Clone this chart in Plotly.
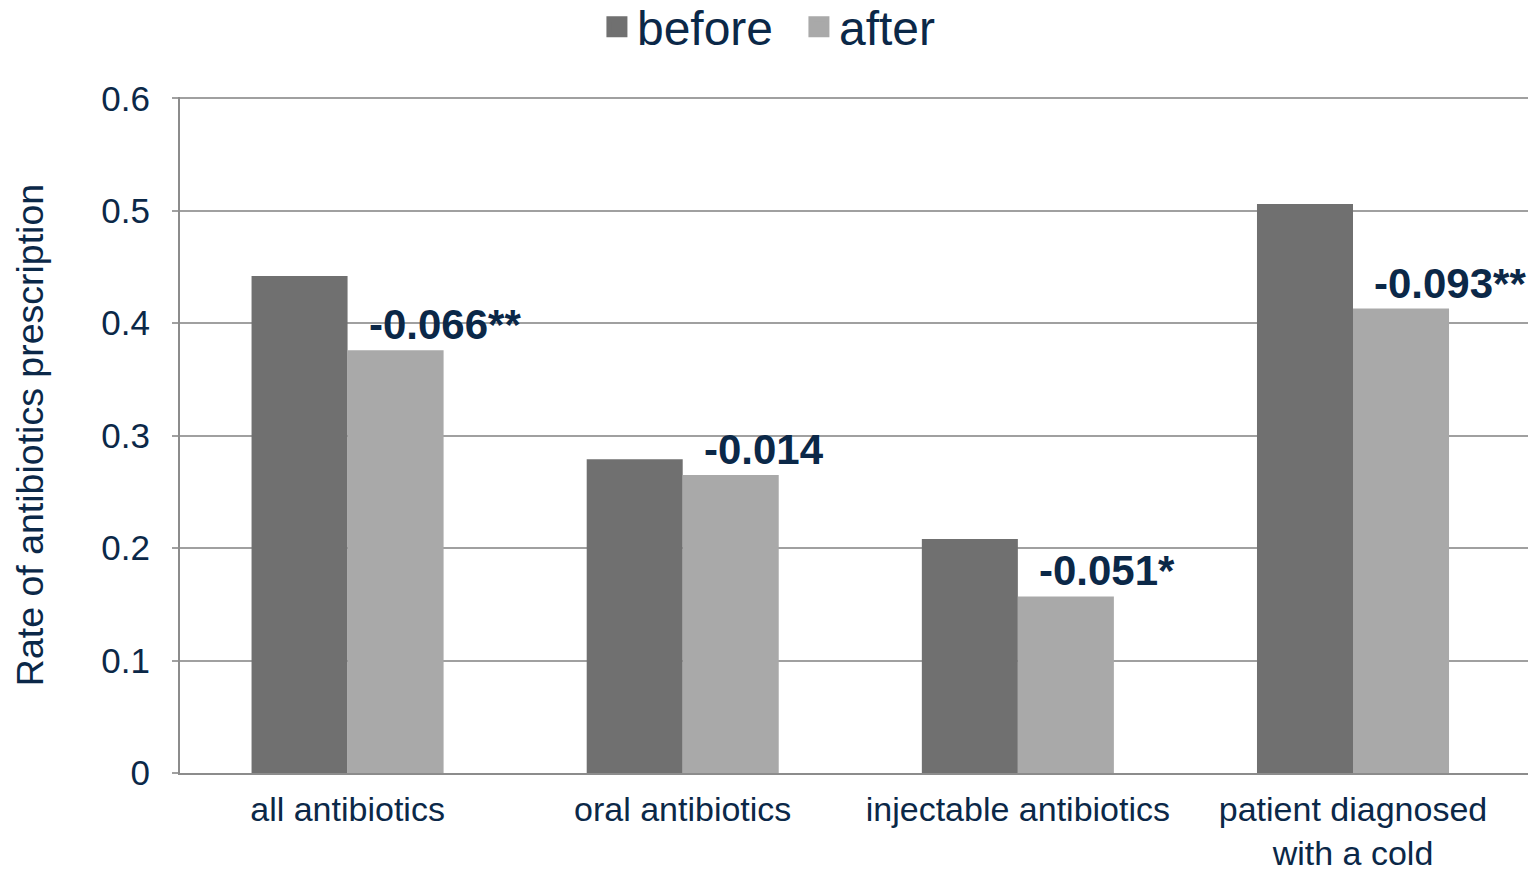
import plotly.graph_objects as go

categories = ["all antibiotics", "oral antibiotics", "injectable antibiotics", "patient diagnosed<br>with a cold"]
before = [0.442, 0.279, 0.208, 0.506]
after = [0.376, 0.265, 0.157, 0.413]
diff_labels = ["-0.066**", "-0.014", "-0.051*", "-0.093**"]
y_ticks = [0, 0.1, 0.2, 0.3, 0.4, 0.5, 0.6]
y_tick_text = ["0", "0.1", "0.2", "0.3", "0.4", "0.5", "0.6"]

NAVY = "#0B2848"
C_BEFORE = "#707070"
C_AFTER = "#A9A9A9"
FONT = "Liberation Sans, Arial, sans-serif"

fig = go.Figure()
fig.add_trace(go.Bar(name="before", x=categories, y=before, showlegend=False,
                     marker=dict(color=C_BEFORE, line=dict(width=0))))
fig.add_trace(go.Bar(name="after", x=categories, y=after, showlegend=False,
                     marker=dict(color=C_AFTER, line=dict(width=0))))
# legend entries with larger square symbols
for nm, col in (("before", C_BEFORE), ("after", C_AFTER)):
    fig.add_trace(go.Scatter(name=nm, x=[None], y=[None], mode="markers",
                             marker=dict(symbol="square", size=24, color=col,
                                         line=dict(width=6, color=col))))

for cat, val, lab in zip(categories, after, diff_labels):
    fig.add_annotation(x=cat, y=val, text="<b>%s</b>" % lab, showarrow=False,
                       xanchor="left", yanchor="bottom", xshift=19, yshift=0,
                       font=dict(family=FONT, size=42, color=NAVY))

fig.update_layout(
    width=1537, height=869,
    margin=dict(l=180, r=9, t=97, b=96, autoexpand=False),
    paper_bgcolor="white", plot_bgcolor="white",
    barmode="group", bargap=0.427, bargroupgap=0,
    font=dict(family=FONT, color=NAVY, size=35),
    showlegend=True,
    legend=dict(orientation="h", xref="container", yref="container", x=0.5198, xanchor="center",
                y=0.969, yanchor="middle", font=dict(size=48, color=NAVY, family=FONT),
                entrywidth=157, entrywidthmode="pixels",
                itemclick=False, itemdoubleclick=False, bgcolor="rgba(0,0,0,0)"),
    xaxis=dict(showline=True, linecolor="#8C8C8C", linewidth=2, ticks="", showgrid=False,
               tickfont=dict(size=34, color=NAVY), ticklabelstandoff=5, automargin=False),
    yaxis=dict(range=[0, 0.6012], tickvals=y_ticks, ticktext=y_tick_text,
               showline=True, linecolor="#8C8C8C", linewidth=2,
               showgrid=True, gridcolor="#A0A0A0", gridwidth=2,
               ticks="outside", ticklen=6, tickcolor="#A0A0A0", tickwidth=2,
               tickfont=dict(size=35, color=NAVY), ticklabelstandoff=15,
               zeroline=False, automargin=False,
               title=dict(text="Rate of antibiotics prescription", font=dict(size=37.5, color=NAVY), standoff=46)),
)

fig.write_html("out.html", config={"displayModeBar": False},
               post_script="document.body.style.margin='0';document.body.style.overflow='hidden';")
